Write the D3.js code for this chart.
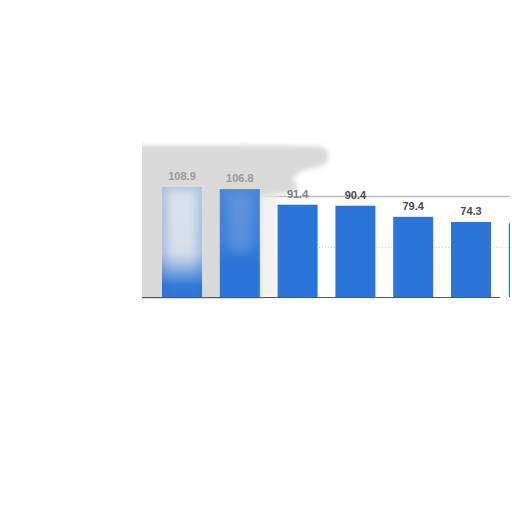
<!DOCTYPE html>
<html><head><meta charset="utf-8">
<script src="https://cdn.jsdelivr.net/npm/d3@7"></script>
<style>html,body{margin:0;padding:0;background:#fff;}svg{display:block;}</style>
</head><body>
<script>
const categories = ["c1","c2","c3","c4","c5","c6","c7"];
const values = [108.9, 106.8, 91.4, 90.4, 79.4, 74.3, 73.0];
const valueLabels = ["108.9","106.8","91.4","90.4","79.4","74.3",""];
const gridValues = [50, 100];

const W = 512, H = 512;
const svg = d3.select("body").append("svg").attr("width", W).attr("height", H);
const defs = svg.append("defs");

const x = d3.scaleBand().domain(categories).range([153.1, 557.7]).paddingInner(0.308).paddingOuter(0.154);
const y = d3.scaleLinear().domain([0, 100]).range([297, 196]);
const b1 = x(categories[0]), b2 = x(categories[1]), bw = x.bandwidth();

defs.append("clipPath").attr("id","panel").append("rect").attr("x",142).attr("y",0).attr("width",368).attr("height",512);
const blur = defs.append("filter").attr("id","blur").attr("x","-20%").attr("y","-20%").attr("width","140%").attr("height","140%");
blur.append("feGaussianBlur").attr("stdDeviation",2.5);
const blurS = defs.append("filter").attr("id","blurS").attr("x","-50%").attr("y","-20%").attr("width","200%").attr("height","140%");
blurS.append("feGaussianBlur").attr("stdDeviation",4);

function grad(id, color, stops){
  const g = defs.append("linearGradient").attr("id",id).attr("x1",0).attr("y1",0).attr("x2",0).attr("y2",1);
  stops.forEach(s=>g.append("stop").attr("offset",s[0]).attr("stop-color",color).attr("stop-opacity",s[1]));
}
grad("g1", "#d6dbe3", [[0,0.75],[0.6,0.7],[0.78,0.3],[0.9,0.0],[1,0]]);
grad("g1c", "#eceef0", [[0,0.7],[0.55,0.7],[0.8,0.1],[1,0]]);
grad("g2", "#c8d2e2", [[0,0.18],[0.45,0.12],[0.7,0.0],[1,0]]);

const plot = svg.append("g").attr("clip-path","url(#panel)");

// gridlines
plot.selectAll("line.grid").data(gridValues).join("line")
  .attr("class","grid")
  .attr("x1",d=>d===100?262:142).attr("x2",512)
  .attr("y1",d=>Math.round(y(d))+0.5).attr("y2",d=>Math.round(y(d))+0.5)
  .attr("stroke",d=>d===100?"#bdbdbd":"#cfcfcf")
  .attr("stroke-width",d=>d===100?1.3:1)
  .attr("stroke-dasharray",d=>d===100?null:"1,2");

// smudge behind the bars
const sm = svg.append("g").attr("filter","url(#blur)");
sm.append("path")
  .attr("d","M136,145 L240,145 L322,146 L328,152 L328,162 L318,167 L304,170 L292,178 L298,186 L296,192 L272,195 L262,197 L262,302 L136,302 Z")
  .attr("fill","#d9d9d9");
sm.append("rect").attr("x",b2+bw).attr("y",197).attr("width",x(categories[2])-b2-bw).attr("height",100).attr("fill","#f1f1f1");

// bars
svg.append("g").attr("clip-path","url(#panel)").selectAll("rect.bar").data(values).join("rect")
  .attr("class","bar")
  .attr("x",(d,i)=>x(categories[i]))
  .attr("y",d=>y(d))
  .attr("width",bw)
  .attr("height",d=>y(0)-y(d))
  .attr("fill","#2b74d8");

// baseline
svg.append("line").attr("x1",142).attr("x2",500).attr("y1",297.5).attr("y2",297.5)
  .attr("stroke","#555").attr("stroke-width",1);

// washed bars
const ov = svg.append("g");
ov.append("rect").attr("x",b1).attr("y",y(values[0])).attr("width",bw).attr("height",y(0)-y(values[0])).attr("fill","url(#g1)");
ov.append("rect").attr("x",b1+5).attr("y",y(values[0])+3).attr("width",bw-10).attr("height",y(0)-y(values[0])-3).attr("fill","url(#g1c)").attr("filter","url(#blurS)");
ov.append("rect").attr("x",b2).attr("y",y(values[1])).attr("width",bw).attr("height",y(0)-y(values[1])).attr("fill","url(#g2)");
ov.append("rect").attr("x",b2+8).attr("y",y(values[1])+4).attr("width",bw-16).attr("height",(y(0)-y(values[1]))*0.55).attr("fill","#dfe4ec").attr("opacity",0.15).attr("filter","url(#blurS)");

// value labels
svg.selectAll("text.lab").data(values).join("text")
  .attr("class","lab")
  .attr("x",(d,i)=>x(categories[i])+bw/2)
  .attr("y",d=>y(d)-7)
  .attr("text-anchor","middle")
  .attr("font-family","Liberation Sans, Arial, sans-serif")
  .attr("font-size",11).attr("font-weight","bold")
  .attr("fill",(d,i)=>i<2?"#9a9a9a":(i===2?"#808080":"#4a4a4a"))
  .text((d,i)=>valueLabels[i]);

// white cut outside panel
svg.append("rect").attr("x",130).attr("y",299).attr("width",382).attr("height",12).attr("fill","#fff");
svg.append("rect").attr("x",124).attr("y",130).attr("width",18).attr("height",180).attr("fill","#fff");
</script>
</body></html>
